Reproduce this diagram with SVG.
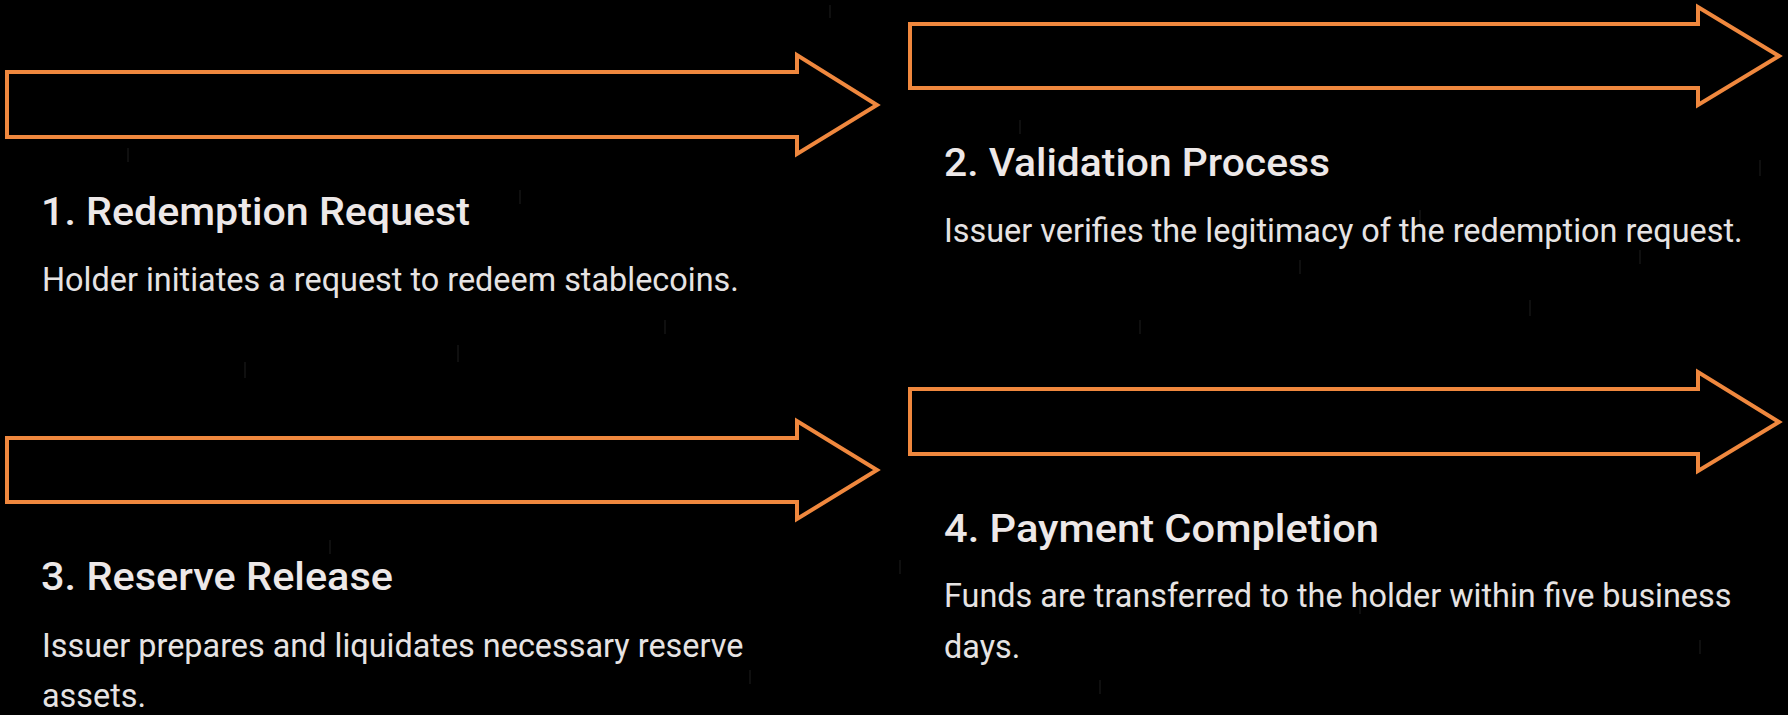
<svg xmlns="http://www.w3.org/2000/svg" width="1788" height="715" viewBox="0 0 1788 715">
  <style>
    .arrow { fill: #000; stroke: #F0883E; stroke-width: 4; stroke-linejoin: miter; }
    .title { font-family: Roboto, "Liberation Sans", sans-serif; font-weight: 500; font-size: 39px; fill: #EDE8E8; }
    .desc { font-family: Roboto, "Liberation Sans", sans-serif; font-weight: 400; font-size: 32.4px; fill: #E6E3E3; }
    .rain { stroke: #9a9a9a; stroke-width: 1.2; opacity: 0.16; }
  </style>
  <rect x="0" y="0" width="1788" height="715" fill="#000"/>
  <g id="rain">
    <line class="rain" x1="128" y1="148" x2="128" y2="162"/>
    <line class="rain" x1="245" y1="362" x2="245" y2="378"/>
    <line class="rain" x1="458" y1="345" x2="458" y2="362"/>
    <line class="rain" x1="520" y1="190" x2="520" y2="204"/>
    <line class="rain" x1="665" y1="320" x2="665" y2="334"/>
    <line class="rain" x1="760" y1="120" x2="760" y2="134"/>
    <line class="rain" x1="830" y1="5" x2="830" y2="18"/>
    <line class="rain" x1="1020" y1="120" x2="1020" y2="134"/>
    <line class="rain" x1="1140" y1="320" x2="1140" y2="334"/>
    <line class="rain" x1="1300" y1="260" x2="1300" y2="274"/>
    <line class="rain" x1="1420" y1="210" x2="1420" y2="224"/>
    <line class="rain" x1="1530" y1="300" x2="1530" y2="316"/>
    <line class="rain" x1="1640" y1="250" x2="1640" y2="264"/>
    <line class="rain" x1="1760" y1="160" x2="1760" y2="176"/>
    <line class="rain" x1="1190" y1="420" x2="1190" y2="434"/>
    <line class="rain" x1="1360" y1="600" x2="1360" y2="614"/>
    <line class="rain" x1="1700" y1="640" x2="1700" y2="654"/>
    <line class="rain" x1="570" y1="480" x2="570" y2="494"/>
    <line class="rain" x1="330" y1="540" x2="330" y2="554"/>
    <line class="rain" x1="750" y1="670" x2="750" y2="684"/>
    <line class="rain" x1="1100" y1="680" x2="1100" y2="694"/>
    <line class="rain" x1="900" y1="560" x2="900" y2="574"/>
  </g>
  <g id="connectors">
    <path id="arrow1" class="arrow" d="M7,72 H797 V55 L877,105 L797,154 V137 H7 Z"/>
    <path id="arrow2" class="arrow" d="M910,24 H1698 V7 L1779,56 L1698,105 V88 H910 Z"/>
    <path id="arrow3" class="arrow" d="M7,438 H797 V421 L877,470 L797,519 V502 H7 Z"/>
    <path id="arrow4" class="arrow" d="M910,389 H1698 V372 L1779,422 L1698,471 V454 H910 Z"/>
  </g>
  <g id="step1">
    <text class="title" x="41" y="225" textLength="429" lengthAdjust="spacingAndGlyphs">1. Redemption Request</text>
    <text class="desc" x="42" y="291">Holder initiates a request to redeem stablecoins.</text>
  </g>
  <g id="step2">
    <text class="title" x="944" y="176" textLength="386" lengthAdjust="spacingAndGlyphs">2. Validation Process</text>
    <text class="desc" x="944" y="242">Issuer verifies the legitimacy of the redemption request.</text>
  </g>
  <g id="step3">
    <text class="title" x="41" y="590" textLength="352" lengthAdjust="spacingAndGlyphs">3. Reserve Release</text>
    <text class="desc" x="42" y="657">Issuer prepares and liquidates necessary reserve</text>
    <text class="desc" x="42" y="707">assets.</text>
  </g>
  <g id="step4">
    <text class="title" x="944" y="542" textLength="435" lengthAdjust="spacingAndGlyphs">4. Payment Completion</text>
    <text class="desc" x="944" y="607">Funds are transferred to the holder within five business</text>
    <text class="desc" x="944" y="658">days.</text>
  </g>
</svg>
